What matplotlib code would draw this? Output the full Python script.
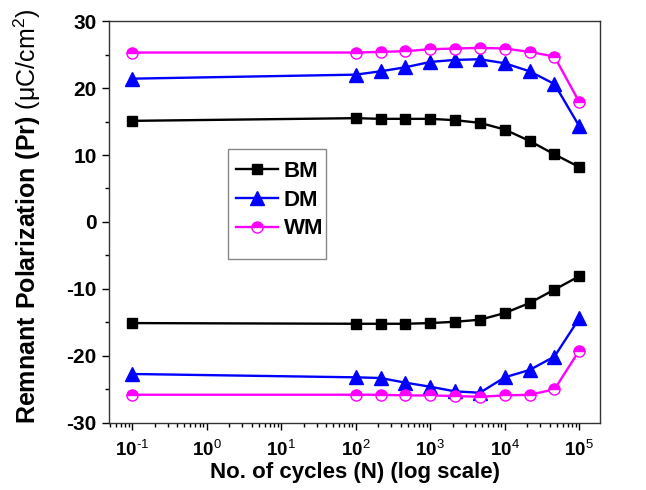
import matplotlib
matplotlib.use('Agg')
import matplotlib.pyplot as plt
from matplotlib.patches import Rectangle
from matplotlib.ticker import MultipleLocator, FixedLocator, FuncFormatter
import numpy as np

plt.rcParams['font.family'] = ['Liberation Sans', 'DejaVu Sans']
plt.rcParams['mathtext.fontset'] = 'custom'
plt.rcParams['mathtext.rm'] = 'Liberation Sans'
plt.rcParams['mathtext.bf'] = 'Liberation Sans:bold'
plt.rcParams['mathtext.default'] = 'regular'
plt.rcParams['axes.unicode_minus'] = False

# cycle counts (log-spaced, 1/3 decade steps after 10^2)
cycles = [0.1, 100, 215, 464, 1000, 2154, 4642, 10000, 21544, 46416, 100000]

# positive remnant polarization
bm_pos = [15.1, 15.5, 15.4, 15.4, 15.4, 15.2, 14.8, 13.8, 12.1, 10.1, 8.2]
dm_pos = [21.4, 22.0, 22.5, 23.1, 23.9, 24.2, 24.3, 23.7, 22.5, 20.6, 14.3]
wm_pos = [25.3, 25.3, 25.4, 25.5, 25.8, 25.9, 26.0, 25.9, 25.4, 24.7, 17.9]

# negative remnant polarization
bm_neg = [-15.1, -15.2, -15.2, -15.2, -15.1, -14.9, -14.6, -13.6, -12.1, -10.1, -8.1]
dm_neg = [-22.7, -23.2, -23.3, -24.0, -24.6, -25.3, -25.5, -23.2, -22.1, -20.1, -14.4]
wm_neg = [-25.8, -25.8, -25.8, -25.9, -25.9, -26.0, -26.1, -25.9, -25.8, -25.0, -19.2]

names = ['BM', 'DM', 'WM']
decades = list(range(-1, 6))

fig = plt.figure(figsize=(6.46, 4.9), dpi=100)
ax = fig.add_axes([0.169, 0.137, 0.76, 0.82])

bm_style = dict(color='black', marker='s', markersize=7.5, linewidth=1.7)
dm_style = dict(color='blue', marker='^', markersize=9.5, linewidth=1.7)
wm_style = dict(color='#ff00ff', marker='o', markersize=8, linewidth=1.7,
                fillstyle='top', markerfacecoloralt='white', markeredgewidth=1.0)

ax.plot(cycles, bm_pos, label=names[0], **bm_style)
ax.plot(cycles, dm_pos, label=names[1], **dm_style)
ax.plot(cycles, wm_pos, label=names[2], **wm_style)
ax.plot(cycles, bm_neg, **bm_style)
ax.plot(cycles, dm_neg, **dm_style)
ax.plot(cycles, wm_neg, **wm_style)

ax.set_xscale('log')
ax.set_xlim(10 ** -1.31, 10 ** 5.28)
ax.set_ylim(-30, 30)


def decade_label(val, pos):
    exp = int(round(np.log10(val)))
    return '10$^{\\text{%d}}$' % exp


# major ticks on each decade, minor ticks at 2..9 within each decade
major = [10.0 ** d for d in decades]
minor = [m * 10.0 ** d for d in range(-2, 6) for m in range(2, 10)]
minor = [v for v in minor if 10 ** -1.31 <= v <= 10 ** 5.28]
ax.xaxis.set_major_locator(FixedLocator(major))
ax.xaxis.set_minor_locator(FixedLocator(minor))
ax.xaxis.set_major_formatter(FuncFormatter(decade_label))
ax.yaxis.set_major_locator(MultipleLocator(10))
ax.yaxis.set_minor_locator(MultipleLocator(5))

ax.tick_params(which='major', direction='out', length=5, width=1.0, pad=4)
ax.tick_params(which='minor', direction='out', length=3, width=1.0)
ax.tick_params(axis='y', labelsize=15)
ax.tick_params(axis='x', which='major', labelsize=13.5, pad=7)
for lab in ax.get_xticklabels() + ax.get_yticklabels():
    lab.set_fontweight('bold')
for sp in ax.spines.values():
    sp.set_color('#333333')
    sp.set_linewidth(1.0)

ax.set_xlabel('No. of cycles (N) (log scale)', fontsize=16, fontweight='bold', labelpad=2)
ax.set_ylabel(r'$\mathbf{Remnant\ Polarization\ (Pr)}$ ($\mu$C/cm$^2$)', fontsize=18)
ax.yaxis.set_label_coords(-0.135, 0.515)

# legend entries without their own frame; box drawn separately
leg = ax.legend(loc='upper left', bbox_to_anchor=(0.227, 0.69), frameon=False,
                prop={'weight': 'bold', 'size': 16}, handlelength=1.9, borderpad=0.2,
                labelspacing=0.34, handletextpad=0.25)
ax.add_patch(Rectangle((0.242, 0.408), 0.200, 0.274, transform=ax.transAxes,
                       fill=False, edgecolor='#888888', linewidth=1.0, zorder=5))

plt.savefig('out.png', dpi=100)
